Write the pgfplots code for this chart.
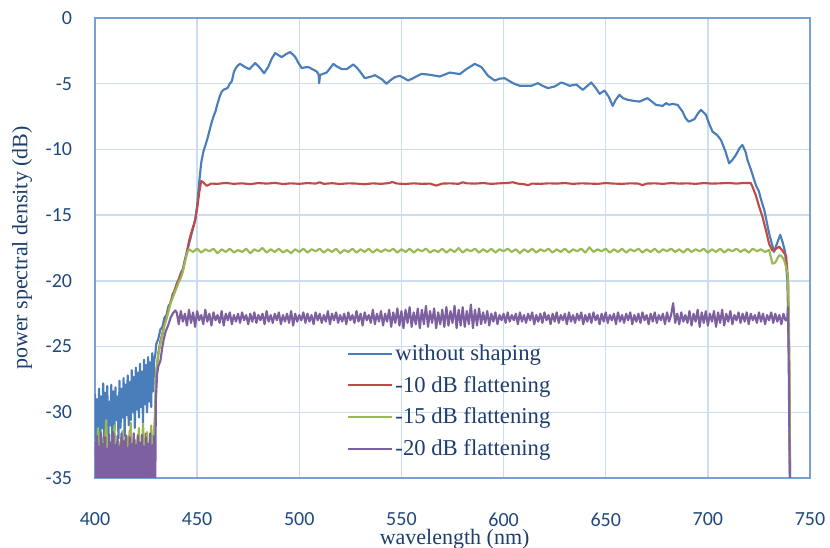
\documentclass[border=0pt]{standalone}
\usepackage{fontspec}
\setmainfont{Liberation Serif}
\newfontfamily\calib{Carlito}
\usepackage{pgfplots}
\pgfplotsset{compat=1.18}

\definecolor{frameblue}{RGB}{120,160,215}
\definecolor{gridblue}{RGB}{205,221,241}
\definecolor{ticknavy}{RGB}{31,73,125}
\definecolor{labnavy}{RGB}{28,62,110}
\definecolor{cblue}{RGB}{74,126,187}
\definecolor{cred}{RGB}{190,75,72}
\definecolor{cgreen}{RGB}{152,185,84}
\definecolor{cpurple}{RGB}{125,96,160}

\begin{document}
\begin{tikzpicture}
\begin{axis}[
    scale only axis,
    width=536.25pt, height=345pt,
    xmin=400, xmax=750, ymin=-35, ymax=0,
    xtick={400,450,...,750},
    ytick={-35,-30,...,0},
    major tick length=0pt,
    grid=major,
    major grid style={gridblue, line width=1pt},
    axis line style={frameblue, line width=1.2pt},
    /pgf/number format/assume math mode=true,
    ticklabel style={font=\calib\fontsize{15}{17}\selectfont, text=ticknavy},
    xticklabel style={anchor=center, yshift=-31pt},
    yticklabel style={anchor=east, inner sep=0pt, xshift=-17pt},
    xlabel={wavelength (nm)},
    ylabel={power spectral density (dB)},
    every axis x label/.style={at={(axis description cs:0.503,-0.133)}, anchor=center,
        font=\fontsize{16.5}{18}\selectfont, text=labnavy},
    every axis y label/.style={at={(axis description cs:-0.102,0.5)}, rotate=90, anchor=center,
        font=\fontsize{16.5}{18}\selectfont, text=labnavy},
    legend style={draw=none, fill=none, at={(axis description cs:0.352,0.296)}, anchor=north west,
        font=\fontsize{17}{19}\selectfont, text=labnavy, row sep=6.3pt, inner sep=0pt},
    legend cell align=left,
    legend image code/.code={\draw[#1, line width=1.4pt] (0pt,0pt) -- (33pt,0pt);},
    every axis plot/.append style={line width=1.6pt, line join=round},
]
% without shaping
\addplot[cblue] coordinates {
(400,-28.6)(400.5,-32.0)(401,-29.0)(401.5,-31.5)(402,-28.2)(402.5,-33.0)(403,-28.8)(403.5,-31.2)
(404,-27.8)(404.5,-32.5)(405,-28.5)(405.5,-30.8)(406,-28.0)(406.5,-32.2)(407,-29.2)(407.5,-31.0)
(408,-27.9)(408.5,-32.8)(409,-28.4)(409.5,-31.4)(410,-28.1)(410.5,-30.6)(411,-28.8)(411.5,-32.0)
(412,-27.6)(412.5,-31.2)(413,-28.2)(413.5,-30.4)(414,-27.4)(414.5,-31.8)(415,-27.9)(415.5,-30.2)
(416,-27.2)(416.5,-31.0)(417,-27.7)(417.5,-30.6)(418,-26.8)(418.5,-30.0)(419,-27.3)(419.5,-31.2)
(420,-26.6)(420.5,-29.8)(421,-27.0)(421.5,-30.4)(422,-26.3)(422.5,-29.6)(423,-26.9)(423.5,-30.8)
(424,-26.0)(424.5,-29.4)(425,-26.4)(425.5,-30.0)(426,-25.8)(426.5,-29.2)(427,-26.2)(427.5,-29.6)
(428,-25.5)(428.5,-28.4)(429,-26.0)(429.5,-25.6)(430,-24.8)(431,-24.4)(432,-23.7)(433,-23.5)
(434,-22.8)(435,-22.6)(436,-21.9)(437,-21.7)(438,-21.0)(439,-20.8)(440,-20.2)(441,-19.9)
(442,-19.4)(443,-19.1)(444,-18.4)(445,-17.8)(446,-17.2)(447,-16.6)(448,-16.0)(449,-15.4)
(450,-14.3)(451,-12.5)(452,-11.0)(453,-10.2)(454,-9.7)(455,-9.2)(456,-8.6)(457,-8.0)
(458,-7.5)(459,-7.1)(460,-6.5)(461,-6.0)(462,-5.6)(463,-5.45)(464,-5.4)(465,-5.3)
(466,-5.0)(467,-4.8)(468,-4.1)(469,-3.8)(470,-3.6)(471,-3.49)(473.5,-3.74)(475.6,-3.89)
(478.4,-3.43)(480.8,-3.81)(482.8,-4.20)(484.9,-3.69)(486.5,-3.1)(488.2,-2.67)(490,-2.85)(491.4,-2.98)
(493.5,-2.75)(495.5,-2.59)(497.9,-2.93)(499.5,-3.4)(501.2,-3.81)(503,-3.75)(504.5,-3.74)(506.5,-3.9)
(508.5,-4.07)(509.5,-4.3)(509.7,-4.96)(510.2,-4.33)(513.4,-4.15)(516.7,-3.49)(518.5,-3.7)(520.8,-3.89)
(523.2,-3.89)(526.4,-3.54)(528,-3.75)(529.7,-4.07)(532.1,-4.58)(535.4,-4.45)(537,-4.35)(540.3,-4.65)
(542.7,-5.01)(544.5,-4.75)(546.8,-4.50)(549.2,-4.40)(551,-4.55)(553.3,-4.76)(555.7,-4.58)(559.8,-4.25)
(563.9,-4.32)(568.8,-4.45)(573.7,-4.15)(578.6,-4.27)(581.8,-3.89)(585.9,-3.49)(589.2,-3.74)(592.4,-4.40)
(595.7,-4.76)(598,-4.62)(600.5,-4.58)(604.6,-4.96)(607.9,-5.16)(610.5,-5.16)(613.6,-5.16)(616.8,-4.96)
(619,-5.15)(621.7,-5.34)(625,-5.21)(628.2,-4.91)(630,-5.0)(632.3,-5.16)(635.6,-5.06)(638.8,-5.47)
(642.9,-4.91)(645,-5.3)(647,-5.77)(649.4,-5.52)(651.5,-6.0)(653.4,-6.69)(655,-6.2)(656.7,-5.85)
(658.5,-6.1)(660.8,-6.23)(663.5,-6.3)(666.5,-6.36)(670.5,-6.10)(672.5,-6.35)(674.6,-6.61)(677.9,-6.69)
(679.5,-6.48)(681,-6.6)(682.8,-6.54)(685.2,-6.61)(687.6,-7.12)(689,-7.6)(690.6,-7.89)(693.4,-7.70)
(695,-7.3)(696.6,-6.99)(699.1,-7.38)(700.5,-8.0)(702.3,-8.65)(704.5,-8.9)(706.4,-9.28)(708.5,-10.1)
(710.4,-11.06)(712,-10.8)(713.7,-10.43)(715.5,-9.9)(716.9,-9.66)(718.5,-10.2)(719.4,-10.81)(721,-11.5)
(723.5,-12.72)(725,-13.2)(726,-13.8)(727.6,-14.6)(730,-16.4)(732.4,-17.8)(733.5,-17.3)(735.4,-16.5)
(736.5,-17.0)(737.8,-17.8)(738.9,-20.0)(739.5,-24.0)(740,-30.0)(740.3,-36.0)
};
\addlegendentry{without shaping}
% -10 dB
\addplot[cred] coordinates {
(400,-33.5)(401,-31.8)(402,-34.6)(403,-32.4)(404,-35.5)(405,-31.6)(406,-34.0)(407,-32.8)
(408,-35.5)(409,-31.5)(410,-33.8)(411,-32.2)(412,-35.5)(413,-31.9)(414,-34.2)(415,-32.6)
(416,-35.5)(417,-31.4)(418,-33.6)(419,-32.0)(420,-35.5)(421,-31.7)(422,-34.4)(423,-32.3)
(424,-35.5)(425,-31.6)(426,-33.9)(427,-32.1)(428,-35.5)(429,-31.8)(429.5,-30.0)(430,-27.0)
(431,-25.5)(432,-24.6)(433,-24.0)(434,-23.3)(435,-22.8)(436,-22.2)(437,-21.6)(438,-21.2)
(439,-20.7)(440,-20.3)(441,-19.9)(442,-19.5)(443,-19.2)(444,-18.5)(445,-17.8)(446,-17.0)
(447,-16.4)(448,-15.9)(449,-15.4)(450,-14.5)(451,-13.3)(452,-12.4)(453,-12.5)(454.5,-12.75)
(455,-12.75)(457,-12.6)(460,-12.62)(464,-12.55)(468,-12.62)(472,-12.58)(476,-12.64)(480,-12.56)
(484,-12.6)(488,-12.55)(492,-12.63)(496,-12.58)(500,-12.62)(504,-12.56)(508,-12.6)(510,-12.5)
(512,-12.62)(516,-12.57)(520,-12.63)(524,-12.58)(528,-12.6)(532,-12.65)(536,-12.58)(540,-12.62)
(544,-12.56)(545.5,-12.48)(548,-12.6)(552,-12.63)(556,-12.58)(560,-12.62)(564,-12.6)(567,-12.75)
(570,-12.6)(574,-12.58)(578,-12.62)(580,-12.5)(582,-12.58)(586,-12.6)(590,-12.56)(594,-12.62)
(598,-12.58)(602,-12.55)(604.5,-12.5)(607,-12.6)(610,-12.65)(612,-12.72)(614,-12.6)(618,-12.62)
(622,-12.58)(626,-12.6)(630,-12.56)(634,-12.62)(638,-12.58)(642,-12.6)(646,-12.62)(650,-12.56)
(654,-12.6)(658,-12.62)(662,-12.58)(666,-12.6)(668,-12.72)(670,-12.6)(674,-12.58)(678,-12.62)
(682,-12.56)(686,-12.6)(690,-12.58)(694,-12.62)(698,-12.56)(702,-12.6)(706,-12.58)(710,-12.55)
(714,-12.6)(718,-12.55)(721,-12.55)(722,-12.9)(723.5,-13.5)(725,-14.3)(726.7,-15.1)(728.5,-16.2)
(730,-17.2)(731.6,-17.7)(733,-17.6)(734.9,-17.4)(736.5,-17.7)(738.3,-18.1)(739.3,-20.0)(739.8,-26.0)
(740.2,-36.0)
};
\addlegendentry{-10 dB flattening}
% -15 dB
\addplot[cgreen] coordinates {
(400.5,-34.0)(401.5,-31.2)(402.5,-35.5)(403.5,-32.0)(404.5,-33.6)(405.5,-30.6)(406.5,-35.5)(407.5,-32.4)
(408.5,-34.2)(409.5,-31.0)(410.5,-35.5)(411.5,-32.2)(412.5,-33.8)(413.5,-31.4)(414.5,-35.5)(415.5,-31.8)
(416.5,-34.0)(417.5,-30.8)(418.5,-35.5)(419.5,-32.1)(420.5,-33.7)(421.5,-31.2)(422.5,-35.5)(423.5,-30.9)
(424.5,-34.1)(425.5,-31.5)(426.5,-35.5)(427.5,-31.0)(428.5,-33.9)(429.5,-29.5)(430,-26.8)(431,-25.6)
(432,-24.8)(433,-24.1)(434,-23.4)(435,-22.9)(436,-22.3)(437,-21.7)(438,-21.3)(439,-20.9)
(440,-20.5)(441,-20.1)(442,-19.8)(443,-19.3)(444,-18.6)(445,-17.9)
(446,-17.6)(448,-17.8)(450,-17.55)(452,-17.85)(454,-17.6)(456,-17.75)(458,-17.55)(460,-17.9)(462,-17.6)(464,-17.8)
(466,-17.55)(468,-17.85)(470,-17.65)(472,-17.8)(474,-17.55)(476,-17.9)(478,-17.6)(480,-17.75)(482,-17.5)(484,-17.85)
(486,-17.6)(488,-17.8)(490,-17.55)(492,-17.85)(494,-17.65)(496,-17.9)(498,-17.6)(500,-17.8)(502,-17.55)(504,-17.85)
(506,-17.6)(508,-17.75)(510,-17.55)(512,-17.85)(514,-17.6)(516,-17.8)(518,-17.55)(520,-17.9)(522,-17.65)(524,-17.8)
(526,-17.55)(528,-17.85)(530,-17.6)(532,-17.8)(534,-17.55)(536,-17.85)(538,-17.6)(540,-17.8)(542,-17.6)(544,-17.75)
(546,-17.55)(548,-17.85)(550,-17.6)(552,-17.8)(554,-17.55)(556,-17.85)(558,-17.6)(560,-17.75)(562,-17.55)(564,-17.85)
(566,-17.65)(568,-17.8)(570,-17.55)(572,-17.85)(574,-17.6)(576,-17.8)(578,-17.5)(580,-17.85)(582,-17.6)(584,-17.75)
(586,-17.55)(588,-17.85)(590,-17.6)(592,-17.8)(594,-17.55)(596,-17.85)(598,-17.6)(600,-17.75)(602,-17.55)(604,-17.8)
(606,-17.6)(608,-17.9)(610,-17.6)(612,-17.8)(614,-17.55)(616,-17.85)(618,-17.6)(620,-17.75)(622,-17.55)(624,-17.85)
(626,-17.6)(628,-17.8)(630,-17.55)(632,-17.85)(634,-17.6)(636,-17.75)(638,-17.55)(640,-17.85)(642,-17.45)(644,-17.8)
(646,-17.6)(648,-17.75)(650,-17.55)(652,-17.85)(654,-17.6)(656,-17.8)(658,-17.55)(660,-17.85)(662,-17.6)(664,-17.75)
(666,-17.55)(668,-17.85)(670,-17.6)(672,-17.8)(674,-17.55)(676,-17.85)(678,-17.6)(680,-17.75)(682,-17.55)(684,-17.8)
(686,-17.6)(688,-17.85)(690,-17.55)(692,-17.8)(694,-17.6)(696,-17.75)(698,-17.55)(700,-17.85)(702,-17.6)(704,-17.8)
(706,-17.55)(708,-17.85)(710,-17.6)(712,-17.75)(714,-17.55)(716,-17.8)(718,-17.6)(720,-17.85)(722,-17.55)(724,-17.75)
(726,-17.6)(728,-17.8)(730,-17.65)(731.6,-18.7)(733,-18.6)(734.9,-18.05)(736,-18.1)(737.3,-18.4)
(738.2,-18.9)(739,-19.5)(739.6,-22.0)(740,-28.0)(740.3,-36.0)
};
\addlegendentry{-15 dB flattening}
% -20 dB
\addplot[cpurple] coordinates {
(400,-32.2)(400.5,-35.5)(401,-31.8)(401.5,-35.5)(402,-32.6)(402.5,-35.5)(403,-31.6)(403.5,-35.5)
(404,-32.4)(404.5,-35.5)(405,-31.9)(405.5,-35.5)(406,-32.8)(406.5,-35.5)(407,-31.7)(407.5,-35.5)
(408,-32.3)(408.5,-35.5)(409,-31.5)(409.5,-35.5)(410,-32.5)(410.5,-35.5)(411,-31.8)(411.5,-35.5)
(412,-32.6)(412.5,-35.5)(413,-31.6)(413.5,-35.5)(414,-32.2)(414.5,-35.5)(415,-31.7)(415.5,-35.5)
(416,-32.7)(416.5,-35.5)(417,-31.9)(417.5,-35.5)(418,-32.4)(418.5,-35.5)(419,-31.6)(419.5,-35.5)
(420,-32.5)(420.5,-35.5)(421,-31.8)(421.5,-35.5)(422,-32.3)(422.5,-35.5)(423,-31.7)(423.5,-35.5)
(424,-32.6)(424.5,-35.5)(425,-31.9)(425.5,-35.5)(426,-32.4)(426.5,-35.5)(427,-31.6)(427.5,-35.5)
(428,-32.5)(428.5,-35.5)(429,-31.8)(429.5,-35.5)(429.8,-29.0)(430.4,-27.1)(431,-26.5)(432,-26.1)
(433,-25.0)(433.6,-24.5)(434.5,-23.9)(436,-23.3)(437,-22.8)(438,-22.5)(439.3,-22.25)
(440,-22.4)(441,-23.3)(442,-22.3)(443,-23.1)(444,-22.5)(445,-23.4)(446,-22.2)(447,-23.2)(448,-22.4)(449,-23.5)
(450,-22.3)(451,-23.0)(452,-22.6)(453,-23.3)(454,-22.2)(455,-23.1)(456,-22.5)(457,-23.4)(458,-22.4)(459,-23.0)
(460,-22.6)(461,-23.2)(462,-22.3)(463,-23.4)(464,-22.5)(465,-23.0)(466,-22.4)(467,-23.3)(468,-22.6)(469,-23.1)
(470,-22.5)(471,-23.2)(472,-22.4)(473,-23.0)(474,-22.6)(475,-23.3)(476,-22.5)(477,-23.1)(478,-22.4)(479,-23.2)
(480,-22.6)(481,-23.0)(482,-22.5)(483,-23.3)(484,-22.3)(485,-23.1)(486,-22.6)(487,-23.2)(488,-22.5)(489,-23.0)
(490,-22.4)(491,-23.3)(492,-22.6)(493,-23.1)(494,-22.5)(495,-23.2)(496,-22.3)(497,-23.4)(498,-22.5)(499,-23.1)
(500,-22.6)(501,-23.0)(502,-22.4)(503,-23.2)(504,-22.5)(505,-23.1)(506,-22.6)(507,-23.3)(508,-22.4)(509,-23.0)
(510,-22.5)(511,-23.2)(512,-22.6)(513,-23.1)(514,-22.3)(515,-23.3)(516,-22.5)(517,-23.0)(518,-22.4)(519,-23.2)
(520,-22.6)(521,-23.1)(522,-22.5)(523,-23.3)(524,-22.4)(525,-23.0)(526,-22.6)(527,-23.2)(528,-22.3)(529,-23.1)
(530,-22.5)(531,-23.4)(532,-22.4)(533,-23.0)(534,-22.6)(535,-23.2)(536,-22.2)(537,-23.3)(538,-22.5)(539,-23.1)
(540,-22.3)(541,-23.4)(542,-22.5)(543,-23.1)(544,-22.2)(545,-23.5)(546,-22.4)(547,-23.2)(548,-22.1)(549,-23.4)
(550,-22.3)(551,-23.6)(552,-22.2)(553,-23.2)(554,-22.0)(555,-23.5)(556,-22.4)(557,-23.3)(558,-22.1)(559,-23.6)
(560,-22.2)(561,-23.3)(562,-21.9)(563,-23.5)(564,-22.3)(565,-23.2)(566,-22.1)(567,-23.6)(568,-22.4)(569,-23.3)
(570,-22.2)(571,-23.5)(572,-22.0)(573,-23.4)(574,-22.3)(575,-23.2)(576,-21.9)(577,-23.6)(578,-22.2)(579,-23.4)
(580,-22.0)(581,-23.5)(582,-22.3)(583,-23.3)(584,-21.8)(585,-23.6)(586,-22.2)(587,-23.4)(588,-22.1)(589,-23.3)
(590,-22.4)(591,-23.2)(592,-22.3)(593,-23.4)(594,-22.5)(595,-23.1)(596,-22.4)(597,-23.3)(598,-22.6)(599,-23.0)
(600,-22.5)(601,-23.2)(602,-22.4)(603,-23.1)(604,-22.6)(605,-23.0)(606,-22.5)(607,-23.3)(608,-22.4)(609,-23.1)
(610,-22.6)(611,-23.2)(612,-22.5)(613,-23.0)(614,-22.4)(615,-23.3)(616,-22.6)(617,-23.1)(618,-22.5)(619,-23.2)
(620,-22.4)(621,-23.0)(622,-22.6)(623,-23.3)(624,-22.5)(625,-23.1)(626,-22.4)(627,-23.2)(628,-22.6)(629,-23.0)
(630,-22.5)(631,-23.3)(632,-22.4)(633,-23.1)(634,-22.6)(635,-23.2)(636,-22.5)(637,-23.0)(638,-22.4)(639,-23.3)
(640,-22.6)(641,-23.1)(642,-22.5)(643,-23.2)(644,-22.4)(645,-23.0)(646,-22.6)(647,-23.3)(648,-22.5)(649,-23.1)
(650,-22.4)(651,-23.2)(652,-22.6)(653,-23.0)(654,-22.5)(655,-23.3)(656,-22.4)(657,-23.1)(658,-22.6)(659,-23.2)
(660,-22.5)(661,-23.0)(662,-22.4)(663,-23.3)(664,-22.6)(665,-23.1)(666,-22.5)(667,-23.2)(668,-22.4)(669,-23.0)
(670,-22.6)(671,-23.3)(672,-22.5)(673,-23.1)(674,-22.4)(675,-23.2)(676,-22.6)(677,-23.0)(678,-22.5)(679,-23.3)
(680,-22.4)(681,-23.1)(682,-22.6)(683,-21.7)(684,-23.2)(685,-22.5)(686,-23.3)(687,-22.4)(688,-23.1)(689,-22.6)
(690,-23.2)(691,-22.3)(692,-23.4)(693,-22.5)(694,-23.1)(695,-22.2)(696,-23.5)(697,-22.4)(698,-23.2)(699,-22.3)
(700,-23.4)(701,-22.5)(702,-23.1)(703,-22.3)(704,-23.5)(705,-22.4)(706,-23.2)(707,-22.2)(708,-23.4)(709,-22.5)
(710,-23.1)(711,-22.3)(712,-23.3)(713,-22.6)(714,-23.0)(715,-22.4)(716,-23.2)(717,-22.5)(718,-23.1)(719,-22.4)
(720,-23.3)(721,-22.5)(722,-23.0)(723,-22.6)(724,-23.2)(725,-22.4)(726,-23.1)(727,-22.5)(728,-23.3)(729,-22.6)
(730,-23.0)(731,-22.4)(732,-23.2)(733,-22.5)(734,-23.1)(735,-22.6)(736,-23.3)(737,-22.5)(738,-23.0)
(738.8,-23.0)(739.2,-22.0)(739.5,-25.0)(739.8,-30.0)(740.2,-36.0)
};
\addlegendentry{-20 dB flattening}
\end{axis}
\pgfresetboundingbox
\path[use as bounding box] (-71.25pt,-52.5pt) rectangle (551.25pt,358.5pt);
\end{tikzpicture}
\end{document}
